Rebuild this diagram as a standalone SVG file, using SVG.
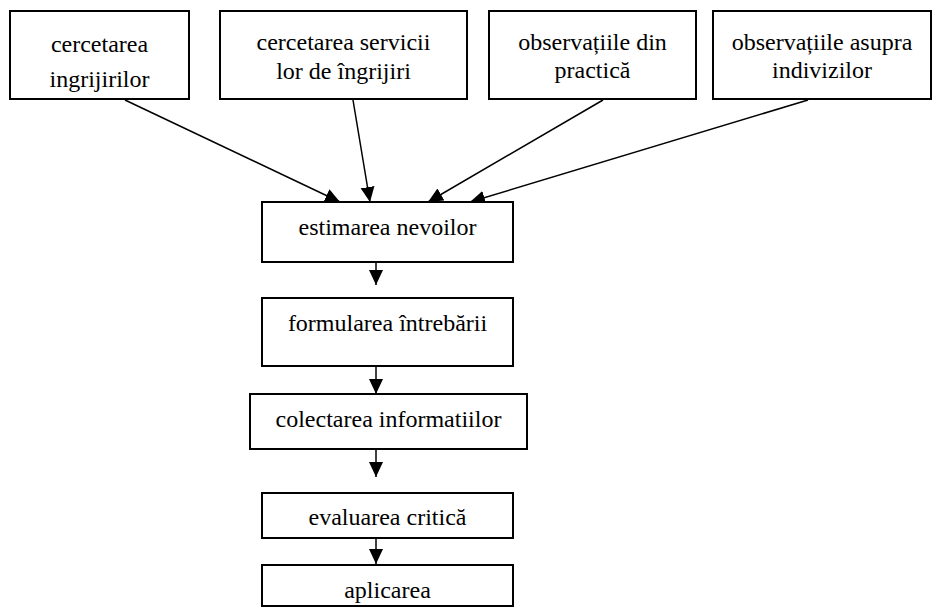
<svg xmlns="http://www.w3.org/2000/svg" width="935" height="608" viewBox="0 0 935 608">
<style>
.box{fill:#fff;stroke:#000;stroke-width:2}
.t{font-family:'Liberation Serif','Times New Roman',Times,'DejaVu Serif',serif;font-size:24px;fill:#000;text-anchor:middle}
.c{stroke:#000;stroke-width:1.5;fill:none;marker-end:url(#ah)}
</style>
<defs>
<marker id="ah" markerUnits="userSpaceOnUse" markerWidth="16" markerHeight="15" refX="15" refY="7" orient="auto">
<path d="M0,0 L15,7 L0,14 z" fill="#000"/>
</marker>
</defs>
<rect width="935" height="608" fill="#fff"/>
<g id="connectors">
<line class="c" x1="125" y1="100" x2="340" y2="202"/>
<line class="c" x1="353" y1="100" x2="370" y2="202"/>
<line class="c" x1="603" y1="100" x2="428" y2="202"/>
<line class="c" x1="808" y1="100" x2="470" y2="202"/>
<line class="c" x1="376" y1="262" x2="376" y2="285"/>
<line class="c" x1="376" y1="366" x2="376" y2="394"/>
<line class="c" x1="376" y1="449" x2="376" y2="477"/>
<line class="c" x1="376" y1="538" x2="376" y2="564"/>
</g>
<g id="n1"><rect class="box" x="10" y="11" width="179" height="88"/>
<text class="t" font-family="Liberation Serif, serif" x="99.5" y="52">cercetarea</text><text class="t" font-family="Liberation Serif, serif" x="99.5" y="87">ingrijirilor</text></g>
<g id="n2"><rect class="box" x="220" y="11" width="247" height="88"/>
<text class="t" font-family="Liberation Serif, serif" x="343.5" y="50">cercetarea servicii</text><text class="t" font-family="Liberation Serif, serif" x="343.5" y="79">lor de îngrijiri</text></g>
<g id="n3"><rect class="box" x="489" y="11" width="207" height="88"/>
<text class="t" font-family="Liberation Serif, serif" x="592.5" y="50">observațiile din</text><text class="t" font-family="Liberation Serif, serif" x="592.5" y="78">practică</text></g>
<g id="n4"><rect class="box" x="713" y="11" width="218" height="88"/>
<text class="t" font-family="Liberation Serif, serif" x="822" y="50">observațiile asupra</text><text class="t" font-family="Liberation Serif, serif" x="822" y="78">indivizilor</text></g>
<g id="n5"><rect class="box" x="262" y="202" width="251" height="60"/>
<text class="t" font-family="Liberation Serif, serif" x="387.5" y="235">estimarea nevoilor</text></g>
<g id="n6"><rect class="box" x="262" y="298" width="251" height="68"/>
<text class="t" font-family="Liberation Serif, serif" x="387.5" y="331">formularea întrebării</text></g>
<g id="n7"><rect class="box" x="250" y="394" width="277" height="55"/>
<text class="t" font-family="Liberation Serif, serif" x="388.5" y="427">colectarea informatiilor</text></g>
<g id="n8"><rect class="box" x="262" y="493" width="251" height="45"/>
<text class="t" font-family="Liberation Serif, serif" x="387.5" y="525">evaluarea critică</text></g>
<g id="n9"><rect class="box" x="262" y="565" width="251" height="41"/>
<text class="t" font-family="Liberation Serif, serif" x="387.5" y="598">aplicarea</text></g>
</svg>
